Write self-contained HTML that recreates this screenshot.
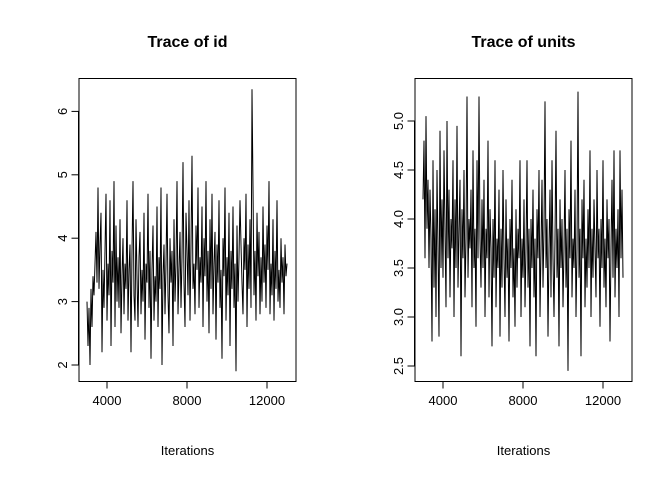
<!DOCTYPE html>
<html><head><meta charset="utf-8"><style>
body{margin:0;background:#fff}
svg text{font-family:"Liberation Sans",sans-serif;fill:#000}
</style></head><body>
<svg id="c" width="672" height="480" xmlns="http://www.w3.org/2000/svg"></svg>
<script>
const idValues=[3.0,2.3,2.9,2.0,3.2,2.6,3.4,3.1,3.6,4.1,3.3,4.8,3.2,3.9,4.4,2.2,3.5,2.9,3.8,4.7,2.7,3.6,3.1,4.6,2.3,3.8,3.3,4.9,2.6,4.2,
3.0,3.7,2.9,4.3,2.5,3.4,4.0,2.8,3.6,3.2,4.6,2.7,3.5,3.9,2.2,3.8,4.9,3.1,2.7,4.3,3.4,2.6,3.7,4.1,2.8,3.5,3.0,4.4,2.4,3.6,
3.3,4.7,2.9,3.8,2.1,3.5,4.2,2.7,3.4,3.0,4.5,2.6,3.7,3.2,4.8,2.0,3.4,3.9,2.8,3.6,4.7,3.1,2.5,4.0,3.3,3.8,2.3,4.3,3.0,3.6,
4.9,2.8,3.5,4.1,2.9,3.7,5.2,3.3,2.6,4.4,3.8,3.1,4.6,2.7,3.9,5.3,3.2,3.6,2.8,4.2,3.5,4.8,2.9,3.7,3.3,4.5,2.6,4.0,3.4,4.9,
3.0,3.8,2.5,4.3,3.2,4.7,2.8,3.6,4.1,2.4,3.9,3.3,4.6,2.9,3.5,2.1,4.0,3.4,4.8,2.7,3.7,3.1,4.4,2.3,3.8,3.2,4.5,2.9,3.6,1.9,
4.2,3.0,3.7,4.6,3.9,3.3,2.8,4.0,3.5,4.7,2.6,3.9,3.2,4.3,2.9,6.35,4.8,3.1,3.8,2.7,4.4,3.4,4.1,2.8,3.7,3.0,4.5,3.3,3.9,2.9,
4.2,3.5,4.9,2.8,3.6,3.1,4.3,2.7,3.8,3.2,4.6,3.0,3.5,2.9,4.0,3.3,3.7,2.8,3.9,3.4,3.6];
const unitsValues=[4.2,4.8,3.6,5.05,3.9,4.4,3.5,4.3,3.8,2.75,4.6,3.3,4.1,3.0,4.5,3.7,2.8,4.9,3.5,4.2,
3.4,4.7,3.9,3.1,5.0,3.6,4.3,3.2,4.0,3.7,4.6,3.0,4.2,3.5,4.95,3.3,3.9,4.4,2.6,4.1,
3.6,4.5,3.2,3.8,5.25,3.4,4.0,3.7,4.3,3.1,4.7,3.5,3.9,2.9,4.6,3.6,5.25,3.8,3.3,4.2,
3.5,4.4,3.0,3.9,3.6,4.8,3.2,4.1,3.7,2.7,4.0,3.4,4.6,3.1,3.8,3.5,4.3,2.8,3.9,3.3,
4.5,3.6,3.0,4.2,3.4,3.8,2.75,4.0,3.5,4.4,3.2,3.7,2.9,4.1,3.3,3.9,3.6,4.6,3.0,3.8,
3.4,4.2,3.1,3.7,4.6,3.3,3.9,2.7,4.0,3.5,4.3,3.2,3.8,2.6,4.1,3.6,4.5,3.0,3.7,4.4,
3.3,3.9,5.2,3.5,4.0,2.8,3.7,4.3,3.2,4.6,3.6,3.0,3.8,4.9,3.4,3.9,2.7,4.2,3.5,4.0,
3.1,3.7,4.5,3.3,3.9,2.45,4.1,3.6,4.8,3.2,3.8,3.5,4.3,3.0,3.7,5.3,3.4,3.9,2.6,4.2,
3.6,4.4,3.1,3.8,3.3,4.1,3.5,4.7,3.0,3.9,3.4,4.2,3.7,3.2,4.5,3.6,3.9,2.9,4.0,3.5,
4.6,3.3,3.8,3.1,4.2,3.6,4.0,2.75,3.7,4.4,3.4,4.7,3.2,3.9,3.5,4.1,3.0,4.7,3.6,4.3,3.4];
const iterStart=3000, iterStep=50;
const xTicks=[4000,8000,12000];
const idYTicks=[2,3,4,5,6];
const unitsYTicks=[2.5,3.0,3.5,4.0,4.5,5.0];
const unitsYLabels=["2.5","3.0","3.5","4.0","4.5","5.0"];

const NS="http://www.w3.org/2000/svg";
const svg=document.getElementById('c');
function mk(t,a,p){const e=document.createElementNS(NS,t);for(const k in a)e.setAttribute(k,a[k]);(p||svg).appendChild(e);return e;}

function panel(key,title,vals,yT,yL,x0,yPix0,yVal0,yPpu){
  const g=mk('g',{});
  
  
  const X=v=>x0+(v-4000)*0.02;
  const Y=v=>yPix0-(v-yVal0)*yPpu;
  const L=x0-28, R=x0+189;
  const box=mk('rect',{x:L,y:78.5,width:R-L,height:303,fill:'none',stroke:'#000','stroke-width':1},g);
  
  
  let d='';
  vals.forEach((v,i)=>{d+=(i?'L':'M')+X(iterStart+i*iterStep).toFixed(1)+','+Y(v).toFixed(1);});
  const ln=mk('path',{d:d,fill:'none',stroke:'#000','stroke-width':1},g);
  
  
  mk('line',{x1:X(xTicks[0]),x2:X(xTicks[xTicks.length-1]),y1:381.5,y2:381.5,stroke:'#000'},g);
  xTicks.forEach(t=>{
    mk('line',{x1:X(t),x2:X(t),y1:381.5,y2:388.5,stroke:'#000'},g);
    const tx=mk('text',{x:X(t),y:405,'font-size':13,'text-anchor':'middle'},g);tx.textContent=t;
    
    
  });
  mk('line',{x1:L-0.5,x2:L-0.5,y1:Y(yT[0]),y2:Y(yT[yT.length-1]),stroke:'#000'},g);
  yT.forEach((t,i)=>{
    const y=Y(t);
    mk('line',{x1:L-7.5,x2:L-0.5,y1:y,y2:y,stroke:'#000'},g);
    const tx=mk('text',{x:0,y:0,'font-size':13,'text-anchor':'middle',transform:`translate(${L-12},${y}) rotate(-90)`},g);
    tx.textContent=yL[i];
    
    
  });
  const tt=mk('text',{x:(L+R)/2,y:47,'font-size':16,'font-weight':'bold','text-anchor':'middle'},g);
  tt.textContent=title;
  
  
  const xl=mk('text',{x:(L+R)/2,y:455,'font-size':13,'text-anchor':'middle'},g);
  xl.textContent='Iterations';
  
  
}
panel('id','Trace of id',idValues,idYTicks,idYTicks.map(String),107,365,2,63.4);
panel('units','Trace of units',unitsValues,unitsYTicks,unitsYLabels,443,366,2.5,98);
</script>
</body></html>
